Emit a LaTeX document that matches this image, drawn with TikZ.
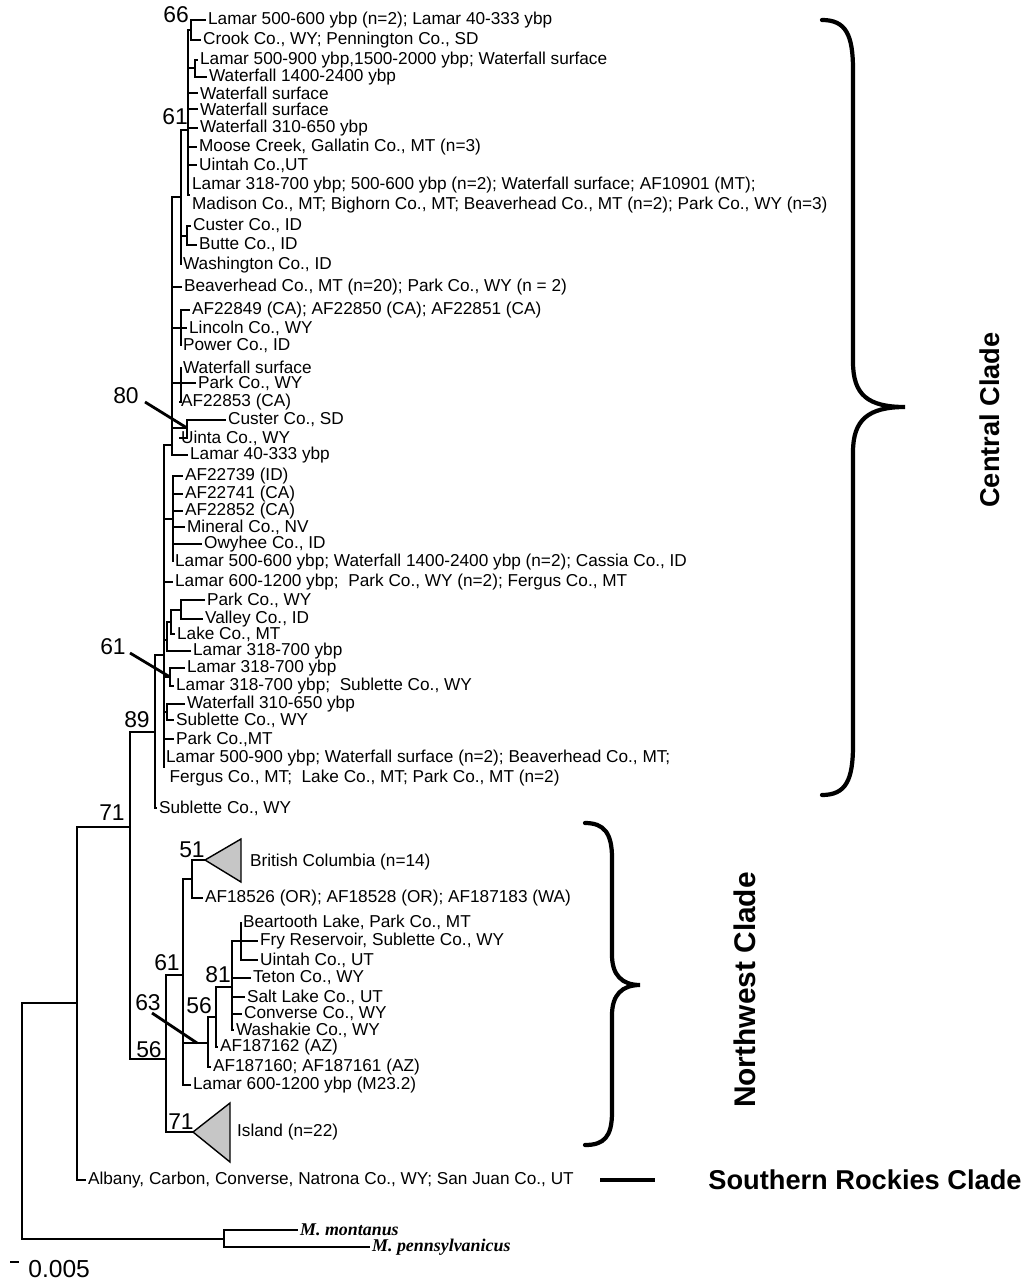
\documentclass[tikz,border=0pt]{standalone}
\usepackage{fontspec}
\setmainfont{Liberation Sans}
\newfontfamily\timesfont{Liberation Serif}
\usepackage{tikz}
\tikzstyle{taxon} = [anchor=west, inner sep=1pt, align=left, font=\fontsize{9.8}{11.2}\selectfont]
\tikzstyle{outgroup} = [anchor=west, inner sep=1pt, font=\fontsize{10.2}{12}\timesfont\bfseries\itshape]
\tikzstyle{boot} = [inner sep=0pt, font=\fontsize{13}{13}\selectfont]
\tikzstyle{branch} = [draw, line width=0.8pt]
\tikzstyle{leader} = [draw, line width=1.6pt]
\tikzstyle{collapsed} = [draw, line width=0.8pt, fill=gray!45]
\tikzstyle{brace} = [draw, line width=2.4pt, line cap=round]
\tikzstyle{clade} = [inner sep=0pt, font=\fontsize{15.5}{16}\selectfont\bfseries]

\begin{document}
\begin{tikzpicture}[x=0.02cm, y=-0.02cm]
    \useasboundingbox (0,0) rectangle (1029,1280);
    % Place nodes: central clade
    \node [taxon] (c1) at (206,20) {Lamar 500-600 ybp (n=2); Lamar 40-333 ybp};
    \node [taxon] (c2) at (201,40) {Crook Co., WY; Pennington Co., SD};
    \node [taxon] (c3) at (198,60) {Lamar 500-900 ybp,1500-2000 ybp; Waterfall surface};
    \node [taxon] (c4) at (207,77) {Waterfall 1400-2400 ybp};
    \node [taxon] (c5) at (198,93) {Waterfall surface};
    \node [taxon] (c6) at (198,109) {Waterfall surface};
    \node [taxon] (c7) at (198,128) {Waterfall 310-650 ybp};
    \node [taxon] (c8) at (197,147) {Moose Creek, Gallatin Co., MT (n=3)};
    \node [taxon] (c9) at (197,165) {Uintah Co.,UT};
    \node [taxon] (c10) at (190,195) {Lamar 318-700 ybp; 500-600 ybp (n=2); Waterfall surface; AF10901 (MT);\\
        Madison Co., MT; Bighorn Co., MT; Beaverhead Co., MT (n=2); Park Co., WY (n=3)};
    \node [taxon] (c12) at (191,226) {Custer Co., ID};
    \node [taxon] (c13) at (197,245) {Butte Co., ID};
    \node [taxon] (c14) at (181,265) {Washington Co., ID};
    \node [taxon] (c15) at (182,287) {Beaverhead Co., MT (n=20); Park Co., WY (n = 2)};
    \node [taxon] (c16) at (190,310) {AF22849 (CA); AF22850 (CA); AF22851 (CA)};
    \node [taxon] (c17) at (187,328) {Lincoln Co., WY};
    \node [taxon] (c18) at (181,346) {Power Co., ID};
    \node [taxon] (c19) at (181,367) {Waterfall surface};
    \node [taxon] (c20) at (196,383) {Park Co., WY};
    \node [taxon] (c21) at (179,402) {AF22853 (CA)};
    \node [taxon] (c22) at (226,420) {Custer Co., SD};
    \node [taxon] (c23) at (179,438) {Uinta Co., WY};
    \node [taxon] (c24) at (188,455) {Lamar 40-333 ybp};
    \node [taxon] (c25) at (183,476) {AF22739 (ID)};
    \node [taxon] (c26) at (183,494) {AF22741 (CA)};
    \node [taxon] (c27) at (183,511) {AF22852 (CA)};
    \node [taxon] (c28) at (185,527) {Mineral Co., NV};
    \node [taxon] (c29) at (202,544) {Owyhee Co., ID};
    \node [taxon] (c30) at (173,562) {Lamar 500-600 ybp; Waterfall 1400-2400 ybp (n=2); Cassia Co., ID};
    \node [taxon] (c31) at (173,582) {Lamar 600-1200 ybp;~ Park Co., WY (n=2); Fergus Co., MT};
    \node [taxon] (c32) at (205,600) {Park Co., WY};
    \node [taxon] (c33) at (203,619) {Valley Co., ID};
    \node [taxon] (c34) at (175,634) {Lake Co., MT};
    \node [taxon] (c35) at (191,651) {Lamar 318-700 ybp};
    \node [taxon] (c36) at (185,668) {Lamar 318-700 ybp};
    \node [taxon] (c37) at (174,686) {Lamar 318-700 ybp;~ Sublette Co., WY};
    \node [taxon] (c38) at (185,704) {Waterfall 310-650 ybp};
    \node [taxon] (c39) at (174,720) {Sublette Co., WY};
    \node [taxon] (c40) at (174,739) {Park Co.,MT};
    \node [taxon] (c41) at (164,768) {Lamar 500-900 ybp; Waterfall surface (n=2); Beaverhead Co., MT;\\
        \hspace{2pt}Fergus Co., MT;~ Lake Co., MT; Park Co., MT (n=2)};
    \node [taxon] (c42) at (157,808) {Sublette Co., WY};
    % Place nodes: northwest clade, southern rockies, outgroups
    \node [taxon] (bc) at (248,862) {British Columbia (n=14)};
    \node [taxon] (oregon) at (203,898) {AF18526 (OR); AF18528 (OR); AF187183 (WA)};
    \node [taxon] (bear) at (241,922) {Beartooth Lake, Park Co., MT};
    \node [taxon] (fry) at (258,941) {Fry Reservoir, Sublette Co., WY};
    \node [taxon] (uintah) at (258,960) {Uintah Co., UT};
    \node [taxon] (teton) at (251,978) {Teton Co., WY};
    \node [taxon] (salt) at (245,997) {Salt Lake Co., UT};
    \node [taxon] (converse) at (242,1014) {Converse Co., WY};
    \node [taxon] (washakie) at (234,1030) {Washakie Co., WY};
    \node [taxon] (azb) at (218,1047) {AF187162 (AZ)};
    \node [taxon] (aza) at (211,1067) {AF187160; AF187161 (AZ)};
    \node [taxon] (m232) at (191,1085) {Lamar 600-1200 ybp (M23.2)};
    \node [taxon] (island) at (235,1132) {Island (n=22)};
    \node [taxon] (albany) at (86,1180) {Albany, Carbon, Converse, Natrona Co., WY; San Juan Co., UT};
    \node [outgroup] (montanus) at (298,1230) {M. montanus};
    \node [outgroup] (penn) at (370,1247) {M. pennsylvanicus};
    % Internal nodes
    \coordinate (n66) at (191,30);
    \coordinate (nL5) at (195,68);
    \coordinate (n61a) at (188,130);
    \coordinate (nCB) at (187,236);
    \coordinate (nB) at (181,197);
    \coordinate (nAFa) at (181,328);
    \coordinate (nWF) at (181,383);
    \coordinate (n80) at (187,428);
    \coordinate (nC) at (172,445);
    \coordinate (nAFb) at (173,519);
    \coordinate (nPV) at (181,610);
    \coordinate (nLk) at (171,622);
    \coordinate (nLk2) at (167,640);
    \coordinate (n61b) at (170,677);
    \coordinate (nWS) at (167,712);
    \coordinate (nD) at (164,655);
    \coordinate (n89) at (155,732);
    \coordinate (bcTip) at (205,860);
    \coordinate (n51) at (192,879);
    \coordinate (nA) at (241,941);
    \coordinate (n81) at (232,987);
    \coordinate (n56i) at (216,1017);
    \coordinate (n63) at (208,1043);
    \coordinate (nw61) at (183,975);
    \coordinate (islTip) at (193,1132);
    \coordinate (nw56) at (166,1059);
    \coordinate (n71) at (130,827);
    \coordinate (nIn) at (77,1003);
    \coordinate (nOut) at (224,1239);
    \coordinate (nRoot) at (22,1121);
    % Bootstrap values
    \node [boot] (b66) at (176,15) {66};
    \node [boot] (b61a) at (175,117) {61};
    \node [boot] (b80) at (126,396) {80};
    \node [boot] (b61b) at (113,647) {61};
    \node [boot] (b89) at (137,720) {89};
    \node [boot] (b71) at (112,813) {71};
    \node [boot] (b51) at (192,850) {51};
    \node [boot] (b61c) at (167,963) {61};
    \node [boot] (b81) at (218,975) {81};
    \node [boot] (b63) at (148,1003) {63};
    \node [boot] (b56i) at (199,1006) {56};
    \node [boot] (b56o) at (149,1050) {56};
    \node [boot] (b71i) at (181,1122) {71};
    % Draw edges: central clade
    \path [branch] (n66) |- (c1) (n66) |- (c2);
    \path [branch] (nL5) |- (c3) (nL5) |- (c4);
    \path [branch] (n61a) |- (n66) (n61a) |- (nL5) (n61a) |- (c5) (n61a) |- (c6)
        (n61a) |- (c7) (n61a) |- (c8) (n61a) |- (c9) (n61a) |- (c10);
    \path [branch] (nCB) |- (c12) (nCB) |- (c13);
    \path [branch] (nB) |- (n61a) (nB) |- (nCB) (nB) |- (c14);
    \path [branch] (nAFa) |- (c16) (nAFa) |- (c17) (nAFa) |- (c18);
    \path [branch] (nWF) |- (c19) (nWF) |- (c20) (nWF) |- (c21);
    \path [branch] (n80) |- (c22) (n80) |- (c23);
    \path [branch] (nC) |- (nB) (nC) |- (c15) (nC) |- (nAFa) (nC) |- (nWF) (nC) |- (n80) (nC) |- (c24);
    \path [branch] (nAFb) |- (c25) (nAFb) |- (c26) (nAFb) |- (c27) (nAFb) |- (c28)
        (nAFb) |- (c29) (nAFb) |- (c30);
    \path [branch] (nPV) |- (c32) (nPV) |- (c33);
    \path [branch] (nLk) |- (nPV) (nLk) |- (c34);
    \path [branch] (nLk2) |- (nLk) (nLk2) |- (c35);
    \path [branch] (n61b) |- (c36) (n61b) |- (c37);
    \path [branch] (nWS) |- (c38) (nWS) |- (c39);
    \path [branch] (nD) |- (nC) (nD) |- (nAFb) (nD) |- (c31) (nD) |- (nLk2) (nD) |- (n61b)
        (nD) |- (nWS) (nD) |- (c40) (nD) |- (c41);
    \path [branch] (n89) |- (nD) (n89) |- (c42);
    % Draw edges: northwest clade
    \path [branch] (n51) |- (bcTip) (n51) |- (oregon);
    \path [collapsed] (bcTip) -- (241,839) -- (241,882) -- cycle;
    \path [branch] (nA) |- (bear) (nA) |- (fry) (nA) |- (uintah);
    \path [branch] (n81) |- (nA) (n81) |- (teton) (n81) |- (salt) (n81) |- (converse) (n81) |- (washakie);
    \path [branch] (n56i) |- (n81) (n56i) |- (azb);
    \path [branch] (n63) |- (n56i) (n63) |- (aza);
    \path [branch] (nw61) |- (n51) (nw61) |- (n63) (nw61) |- (m232);
    \path [branch] (nw56) |- (nw61) (nw56) |- (islTip);
    \path [collapsed] (islTip) -- (230,1103) -- (230,1162) -- cycle;
    % Draw edges: backbone and outgroups
    \path [branch] (n71) |- (n89) (n71) |- (nw56);
    \path [branch] (nIn) |- (n71) (nIn) |- (albany);
    \path [branch] (nOut) |- (montanus) (nOut) |- (penn);
    \path [branch] (nRoot) |- (nIn) (nRoot) |- (nOut);
    % Leader lines for bootstrap values
    \path [leader] (145,402) -- (n80);
    \path [leader] (130,653) -- (n61b);
    \path [leader] (152,1013) -- (197,1043);
    % Clade braces and labels
    \path [brace] (822,20) .. controls (846,20) and (853,35) .. (853,70) -- (853,362)
        .. controls (853,395) and (868,407) .. (905,407)
        .. controls (868,407) and (853,420) .. (853,452) -- (853,745)
        .. controls (853,780) and (846,795) .. (822,795);
    \node [clade, rotate=90] (central) at (990,420) {Central Clade};
    \path [brace] (585,823) .. controls (604,823) and (612,833) .. (612,858) -- (612,955)
        .. controls (612,975) and (622,985) .. (640,985)
        .. controls (622,985) and (612,995) .. (612,1015) -- (612,1112)
        .. controls (612,1137) and (604,1145) .. (585,1145);
    \node [clade, rotate=90, font=\fontsize{17}{17}\selectfont\bfseries] (northwest) at (745,990) {Northwest Clade};
    \coordinate (srStart) at (600,1180);
    \node [clade, anchor=west] (southern) at (708,1180) {Southern Rockies Clade};
    \path [draw, line width=1.8pt] (srStart) -- (655,1180);
    % Scale bar
    \coordinate (scaleA) at (10,1262);
    \node [anchor=base west, inner sep=0pt, font=\fontsize{14}{14}\selectfont] (scale) at (28,1277) {0.005};
    \path [branch] (scaleA) -- (19,1262);
\end{tikzpicture}
\end{document}
